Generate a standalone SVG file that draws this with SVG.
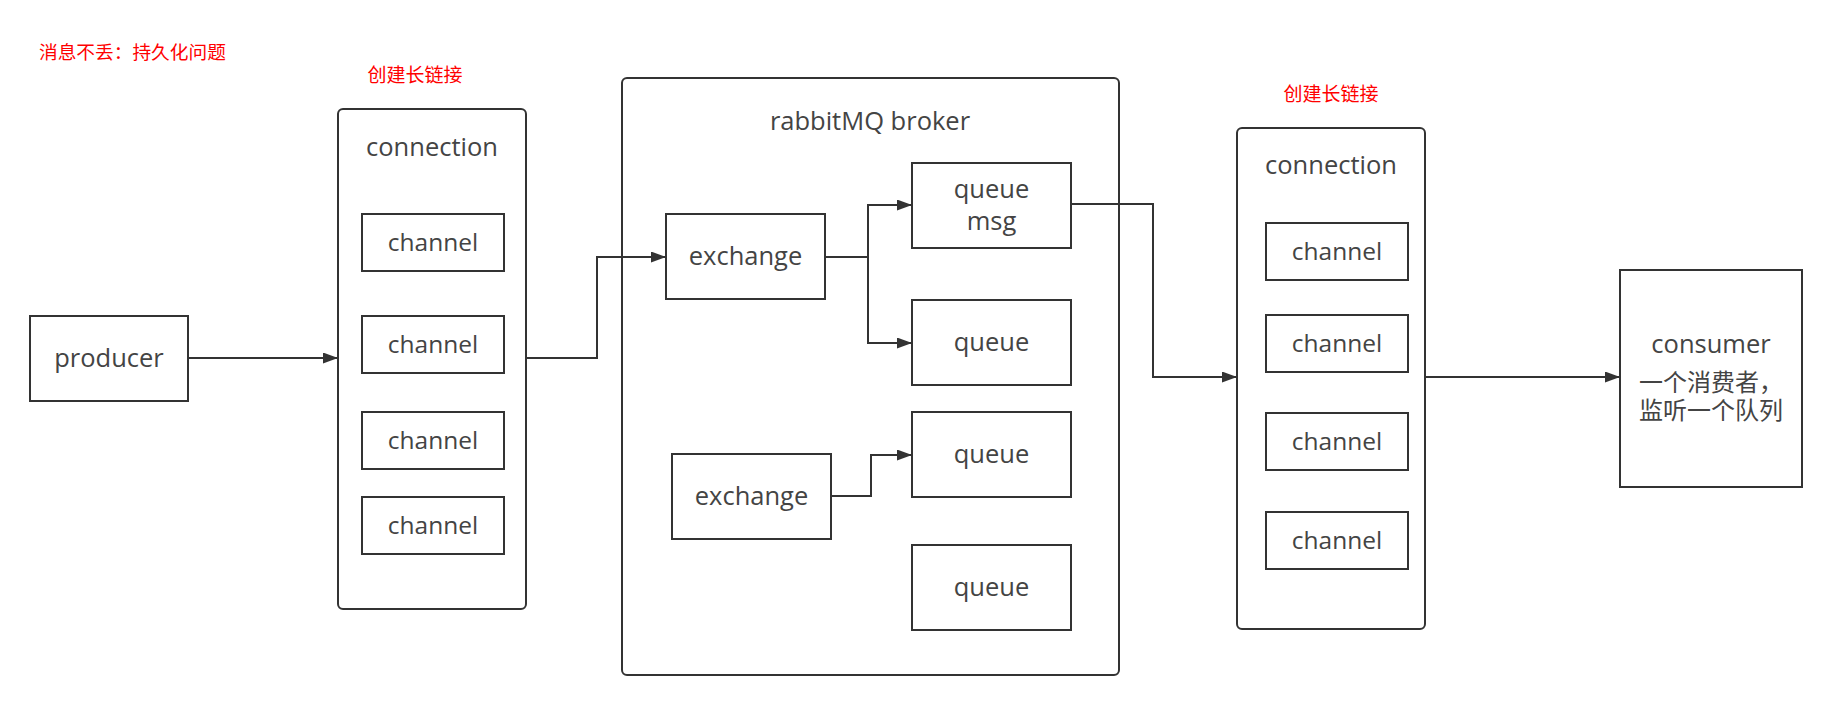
<svg xmlns="http://www.w3.org/2000/svg" width="1826" height="725" viewBox="0 0 1826 725">
<style>
.box{fill:#fff;stroke:#333;stroke-width:2}
.t{font-family:"Open Sans","Noto Sans","Noto Sans CJK SC",sans-serif;font-size:25.5px;fill:#444;text-anchor:middle}
.ch{font-size:24.5px}
.cjk{font-family:"Noto Sans CJK SC","Noto Sans",sans-serif;font-size:24px}
.red{font-family:"Noto Sans CJK SC",sans-serif;font-size:19px;fill:#ff0000}
.edge{fill:none;stroke:#333;stroke-width:2}
</style>
<defs>
<marker id="arr" markerUnits="userSpaceOnUse" markerWidth="16" markerHeight="12" refX="15" refY="5.5" orient="auto">
<path d="M0,0 L15,5.5 L0,11 z" fill="#333"/>
</marker>
</defs>
<rect width="1826" height="725" fill="#fff"/>
<g id="note-title"><text class="red" x="39" y="59" style="font-size:18.7px">消息不丢：持久化问题</text></g>
<g id="note-left"><text class="red" x="415" y="82" text-anchor="middle">创建长链接</text></g>
<g id="note-right"><text class="red" x="1331" y="101" text-anchor="middle">创建长链接</text></g>

<g id="producer"><rect class="box" x="30" y="316" width="158" height="85"/><text class="t" x="109" y="367">producer</text></g>

<g id="connection-left"><rect class="box" x="338" y="109" width="188" height="500" rx="5"/><text class="t" x="432" y="156">connection</text></g>
<g id="channel-l1"><rect class="box" x="362" y="214" width="142" height="57"/><text class="t ch" x="433" y="251">channel</text></g>
<g id="channel-l2"><rect class="box" x="362" y="316" width="142" height="57"/><text class="t ch" x="433" y="353">channel</text></g>
<g id="channel-l3"><rect class="box" x="362" y="412" width="142" height="57"/><text class="t ch" x="433" y="449">channel</text></g>
<g id="channel-l4"><rect class="box" x="362" y="497" width="142" height="57"/><text class="t ch" x="433" y="534">channel</text></g>

<g id="broker"><rect class="box" x="622" y="78" width="497" height="597" rx="5"/><text class="t" x="870" y="130">rabbitMQ broker</text></g>
<g id="exchange1"><rect class="box" x="666" y="214" width="159" height="85"/><text class="t" x="745.5" y="265">exchange</text></g>
<g id="queue-msg"><rect class="box" x="912" y="163" width="159" height="85"/><text class="t" x="991.5" y="198">queue</text><text class="t" x="991.5" y="230">msg</text></g>
<g id="queue2"><rect class="box" x="912" y="300" width="159" height="85"/><text class="t" x="991.5" y="351">queue</text></g>
<g id="queue3"><rect class="box" x="912" y="412" width="159" height="85"/><text class="t" x="991.5" y="463">queue</text></g>
<g id="queue4"><rect class="box" x="912" y="545" width="159" height="85"/><text class="t" x="991.5" y="596">queue</text></g>
<g id="exchange2"><rect class="box" x="672" y="454" width="159" height="85"/><text class="t" x="751.5" y="505">exchange</text></g>

<g id="connection-right"><rect class="box" x="1237" y="128" width="188" height="501" rx="5"/><text class="t" x="1331" y="174">connection</text></g>
<g id="channel-r1"><rect class="box" x="1266" y="223" width="142" height="57"/><text class="t ch" x="1337" y="260">channel</text></g>
<g id="channel-r2"><rect class="box" x="1266" y="315" width="142" height="57"/><text class="t ch" x="1337" y="352">channel</text></g>
<g id="channel-r3"><rect class="box" x="1266" y="413" width="142" height="57"/><text class="t ch" x="1337" y="450">channel</text></g>
<g id="channel-r4"><rect class="box" x="1266" y="512" width="142" height="57"/><text class="t ch" x="1337" y="549">channel</text></g>

<g id="consumer"><rect class="box" x="1620" y="270" width="182" height="217"/>
<text class="t" x="1711" y="353">consumer</text>
<text class="t cjk" x="1711" y="391">一个消费者，</text>
<text class="t cjk" x="1711" y="419">监听一个队列</text></g>

<g id="connectors">
<path class="edge" d="M188 358 H338" marker-end="url(#arr)"/>
<path class="edge" d="M526 358 H597 V257 H666" marker-end="url(#arr)"/>
<path class="edge" d="M825 257 H868 V205 H912" marker-end="url(#arr)"/>
<path class="edge" d="M868 257 V343 H912" marker-end="url(#arr)"/>
<path class="edge" d="M831 496 H871 V455 H912" marker-end="url(#arr)"/>
<path class="edge" d="M1071 204 H1153 V377 H1237" marker-end="url(#arr)"/>
<path class="edge" d="M1425 377 H1620" marker-end="url(#arr)"/>
</g>
</svg>
